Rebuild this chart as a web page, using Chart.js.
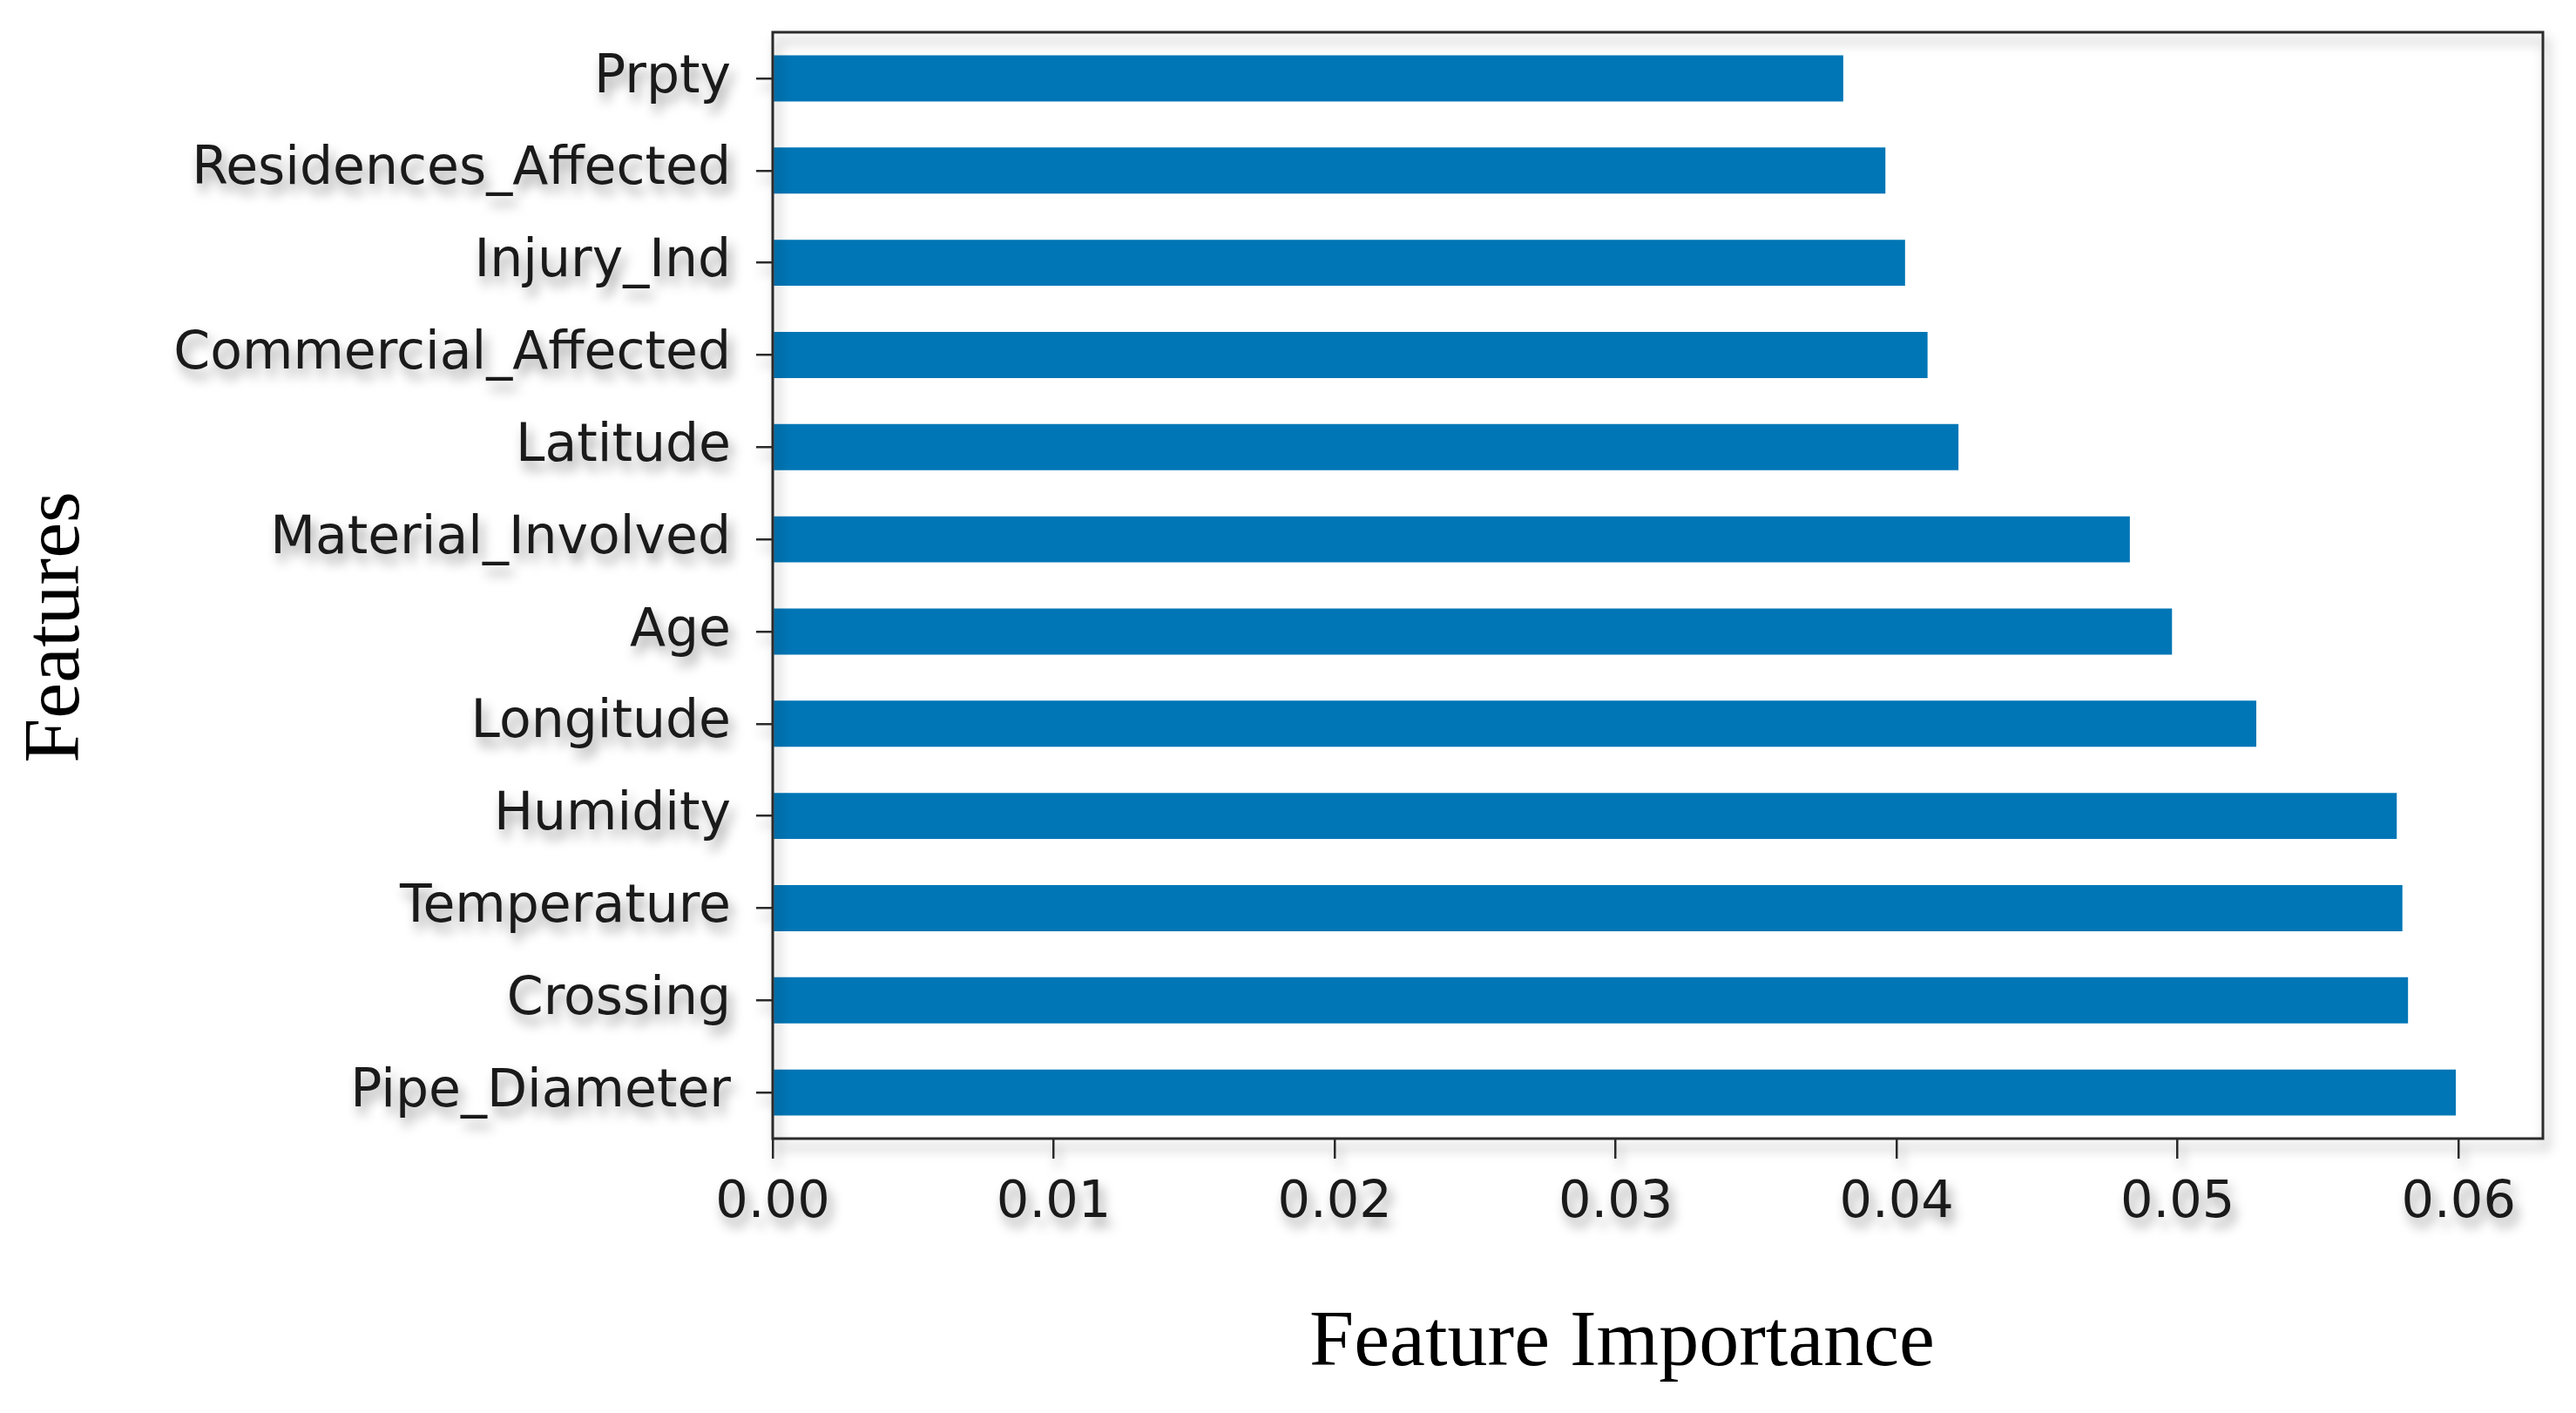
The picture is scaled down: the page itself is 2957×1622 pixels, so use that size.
<!DOCTYPE html>
<html>
<head>
<meta charset="utf-8">
<script src="https://cdn.jsdelivr.net/npm/chart.js@4/dist/chart.umd.min.js"></script>
<style>
  body { margin: 0; background: #fff; }
</style>
</head>
<body>
<canvas id="importanceChart" width="2957" height="1622"></canvas>
<script>
// Datos (de arriba hacia abajo)
const features = ['Prpty', 'Residences_Affected', 'Injury_Ind', 'Commercial_Affected', 'Latitude',
  'Material_Involved', 'Age', 'Longitude', 'Humidity', 'Temperature', 'Crossing', 'Pipe_Diameter'];
const importance = [0.0381, 0.0396, 0.0403, 0.0411, 0.0422, 0.0483, 0.0498, 0.0528, 0.0578, 0.0580, 0.0582, 0.0599];
const xTicks = [0, 0.01, 0.02, 0.03, 0.04, 0.05, 0.06];
const xTitle = 'Feature Importance';
const yTitle = 'Features';

const shadow = (ctx, on) => {
  ctx.shadowColor = on ? 'rgba(0,0,0,0.4)' : 'rgba(0,0,0,0)';
  ctx.shadowBlur = on ? 14 : 0;
  ctx.shadowOffsetX = on ? 5 : 0;
  ctx.shadowOffsetY = on ? 10 : 0;
};

// Sombra en ejes, marco y títulos a mano
const framePlugin = {
  id: 'frame',
  beforeDraw(chart) { shadow(chart.ctx, true); },
  beforeDatasetsDraw(chart) { shadow(chart.ctx, false); },
  afterDatasetsDraw(chart) {
    const { ctx, chartArea: a } = chart;
    ctx.save();
    shadow(ctx, true);
    ctx.strokeStyle = '#2b2b2b';
    ctx.lineWidth = 3;
    ctx.strokeRect(a.left, a.top, a.right - a.left, a.bottom - a.top);
    ctx.restore();

    ctx.save();
    shadow(ctx, false);
    ctx.fillStyle = '#000';
    ctx.font = '92px "Liberation Serif", "Times New Roman", serif';
    ctx.textAlign = 'center';
    ctx.textBaseline = 'middle';
    ctx.fillText(xTitle, 1862, 1543);
    ctx.translate(66, 720);
    ctx.rotate(-Math.PI / 2);
    ctx.fillText(yTitle, 0, 0);
    ctx.restore();
  }
};

const ctx = document.getElementById('importanceChart').getContext('2d');
const importanceChart = new Chart(ctx, {
  type: 'bar',
  data: {
    labels: features,
    datasets: [{
      data: importance,
      backgroundColor: '#0076b6',
      borderWidth: 0,
      barPercentage: 0.5,
      categoryPercentage: 1
    }]
  },
  plugins: [framePlugin],
  options: {
    indexAxis: 'y',
    responsive: false,
    animation: false,
    layout: { padding: { top: 37, right: 38, left: 0, bottom: 0 } },
    plugins: { legend: { display: false }, tooltip: { enabled: false } },
    scales: {
      x: {
        min: 0,
        max: 0.063,
        afterBuildTicks: (scale) => { scale.ticks = xTicks.map(v => ({ value: v })); },
        afterFit: (scale) => { scale.height = 315; scale.paddingLeft = 0; scale.paddingRight = 0; },
        border: { display: false },
        grid: { drawOnChartArea: false, drawTicks: true, tickLength: 23, color: '#2b2b2b', lineWidth: 2.5 },
        ticks: {
          font: { family: '"DejaVu Sans", sans-serif', size: 59 },
          color: '#1a1a1a',
          padding: 16,
          maxRotation: 0,
          callback: (v) => Number(v).toFixed(2)
        }
      },
      y: {
        afterFit: (scale) => { scale.width = 887; scale.paddingTop = 0; scale.paddingBottom = 0; },
        border: { display: false },
        grid: { drawOnChartArea: false, drawTicks: true, offset: false, tickLength: 19, color: '#2b2b2b', lineWidth: 2.5 },
        ticks: { font: { family: '"DejaVu Sans", sans-serif', size: 60 }, color: '#1a1a1a', padding: 29 }
      }
    }
  }
});
</script>
</body>
</html>
